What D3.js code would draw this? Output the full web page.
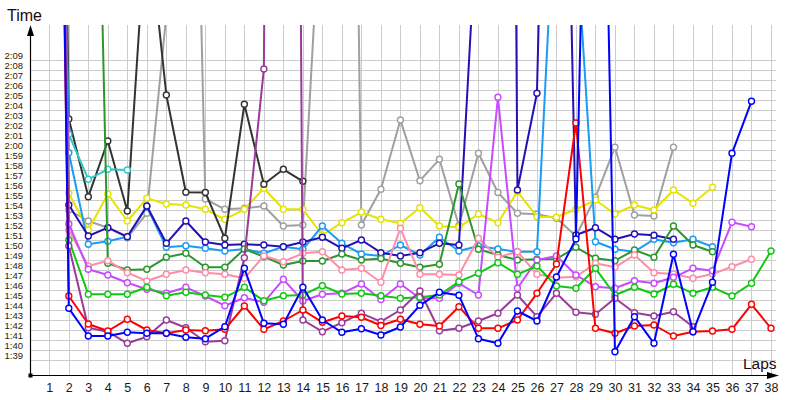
<!DOCTYPE html>
<html><head><meta charset="utf-8">
<script src="https://cdn.jsdelivr.net/npm/d3@7"></script>
<style>body{margin:0;background:#fff}svg{display:block}</style>
</head><body>
<svg id="c" width="800" height="400"></svg>
<script>
// Lap numbers and y tick values (seconds; 99 = 1:39, 129 = 2:09)
const laps = d3.range(1, 39);
const yTicks = d3.range(99, 130);

// Lap times in seconds, starting at lap 1 (values above ~2:12 run off the top of the chart)
const gray      = [220,114.0,112.9,112.23,111.23,113.67,133.5,200,115.1,114.07,114.17,114.4,112.4,112.5,148,260,112.5,116.07,123.0,116.93,119.07,112.43,119.67,115.75,113.67,113.57,113.17,111.4,115.27,120.27,113.5,113.4,120.27];
const yellow    = [215,115.67,112.0,115.6,112.9,115.17,114.6,114.5,114.07,113.07,114.07,116.17,114.07,114.07,111.5,112.73,113.77,113.07,112.67,114.23,112.4,112.27,113.6,112.73,115.83,113.33,113.27,114.07,115.0,113.6,114.5,114.0,116.0,114.67,116.27];
const black     = [260,123.1,115.33,120.9,113.9,144,125.5,115.77,115.75,111.17,124.57,116.57,118.07,116.87];
const cyan      = [210,121.57,117.07,118.07,118.0];
const lightBlue = [200,119.73,110.57,110.87,111.33,114.33,110.27,110.43,110.17,109.9,110.1,109.67,110.33,110.07,112.4,110.67,109.6,109.4,110.5,109.5,111.27,109.9,110.4,110.1,109.83,109.83,148.6,141.8,110.83,110.07,109.83,111.07,110.73,111.07,110.33];
const darkBlue  = [250,114.5,111.4,112.23,111.33,114.4,110.67,112.9,110.8,110.5,110.57,110.5,110.33,110.8,111.27,110.17,111.0,109.73,109.4,109.73,110.67,110.5,146,400,116.0,125.67,205,111.5,112.23,111.07,111.6,111.47,111.07];
const darkGreen = [230,240,197,108.67,108.0,108.07,109.27,109.67,108.27,108.27,110.1,109.33,108.5,108.9,108.9,109.6,109.0,109.15,108.67,108.27,108.57,116.6,110.07,109.5,109.0,109.07,109.1,110.27,109.17,108.93,110.0,109.27,112.4,110.5,109.83];
const pink      = [250,112.0,108.4,108.93,107.73,106.9,107.57,108.0,107.73,107.57,107.17,109.4,108.83,109.67,109.83,108.0,108.17,106.78,112.17,107.57,107.57,107.5,111.17,109.27,109.83,107.57,107.23,107.33,108.67,108.27,109.5,107.73,107.6,107.17,107.6,108.33,109.07];
const violet    = [245,112.6,108.07,107.5,106.73,106.07,105.67,106.27,105.4,104.43,105.23,104.77,107.07,104.9,105.57,105.67,106.6,105.05,106.6,105.17,105.17,106.67,105.5,125.27,106.17,109.0,109.4,107.5,106.33,106.17,106.93,106.67,107.27,108.17,107.93,112.77,112.33];
const green     = [225,111.0,105.57,105.57,105.57,106.27,105.43,105.77,105.5,105.27,106.27,104.93,105.43,105.5,106.43,105.6,105.67,105.43,105.17,105.27,105.5,106.83,107.67,108.73,107.57,108.4,106.4,106.17,108.17,105.5,106.27,105.6,106.57,105.67,106.27,105.4,106.67,109.9];
const purple    = [235,110.4,102.23,101.83,100.67,101.33,103.0,102.23,100.83,100.93,109.23,128.1,400,103.0,101.83,102.73,103.67,102.83,104.0,105.9,101.93,102.17,102.9,103.67,105.5,103.33,105.67,103.77,103.57,105.17,103.73,103.4,103.83,102.33];
const red       = [230,105.4,102.6,101.9,103.07,102.0,101.67,102.0,101.93,102.07,104.4,102.07,102.9,104.0,102.77,103.4,103.27,102.45,103.07,102.57,102.4,104.33,102.17,102.17,103.0,105.67,108.6,122.7,102.17,101.67,102.4,102.5,101.4,101.83,101.9,102.07,104.57,102.17];
const blue      = [240,104.17,101.4,101.4,101.77,101.67,101.67,101.27,101.13,102.33,108.17,102.67,102.57,106.27,103.0,101.77,102.13,101.5,102.3,104.47,105.77,105.47,101.13,100.67,103.9,102.9,107.3,111.1,200,99.83,103.33,100.67,109.57,101.83,106.77,119.67,124.87];

const seriesList = [gray, yellow, black, cyan, lightBlue, darkBlue, darkGreen, pink, violet, green, purple, red, blue];
const palette = ['#a0a0a0','#e4e400','#333333','#33c8c8','#1a9cf5','#2410b4','#2e962e','#ff8ca8','#c84bff','#11c811','#9a3a9a','#ff0000','#0000ff'];

const svg = d3.select('#c');
const x = d3.scaleLinear().domain([0, 38]).range([29.8, 771]);
const y = d3.scaleLinear().domain([99, 129]).range([360, 60]);
const fmt = s => Math.floor(s / 60) + ':' + String(s % 60).padStart(2, '0');
const font = 'Liberation Sans, Arial, sans-serif';

// grid
const g = svg.append('g').attr('shape-rendering', 'crispEdges').attr('stroke', '#cccccc').attr('stroke-width', 1);
g.selectAll('line.h').data(yTicks).join('line').attr('class', 'h')
  .attr('x1', 30).attr('x2', 776).attr('y1', d => Math.round(y(d)) + 0.5).attr('y2', d => Math.round(y(d)) + 0.5);
g.selectAll('line.v').data(laps).join('line').attr('class', 'v')
  .attr('x1', d => Math.round(x(d)) + 0.5).attr('x2', d => Math.round(x(d)) + 0.5).attr('y1', 25).attr('y2', 375);

// clip
svg.append('clipPath').attr('id', 'clip').append('rect').attr('x', 30).attr('y', 25).attr('width', 750).attr('height', 350);
const plot = svg.append('g').attr('clip-path', 'url(#clip)');

const line = d3.line().x((d, i) => x(i + 1)).y(d => y(d));
seriesList.forEach((vals, si) => {
  const col = palette[si];
  const sg = plot.append('g');
  sg.append('path').attr('d', line(vals)).attr('fill', 'none').attr('stroke', col)
    .attr('stroke-width', 2).attr('stroke-linejoin', 'round');
  sg.selectAll('circle').data(vals).join('circle')
    .attr('cx', (d, i) => x(i + 1)).attr('cy', d => y(d)).attr('r', 3)
    .attr('fill', '#fff').attr('stroke', col).attr('stroke-width', 1.4);
});

// y axis labels
const yAxis = svg.append('g').attr('transform', 'translate(30,0)')
  .call(d3.axisLeft(y).tickValues(yTicks).tickFormat(fmt).tickSize(0).tickPadding(7));
yAxis.select('.domain').remove();
yAxis.selectAll('text').attr('dy', -1.5).attr('font-family', font).attr('font-size', 9.5).attr('fill', '#2a1a0a');

// x axis labels
const xAxis = svg.append('g').attr('transform', 'translate(0,375)')
  .call(d3.axisBottom(x).tickValues(laps).tickFormat(d3.format('d')).tickSize(0));
xAxis.select('.domain').remove();
xAxis.selectAll('text').attr('y', 17).attr('dy', 0).attr('font-family', font).attr('font-size', 12.5).attr('fill', '#1a1a1a');

// axis lines and arrows
svg.append('line').attr('x1', 30.5).attr('x2', 30.5).attr('y1', 376).attr('y2', 30).attr('stroke', '#000').attr('stroke-width', 1.2);
svg.append('line').attr('x1', 30).attr('x2', 772).attr('y1', 375.5).attr('y2', 375.5).attr('stroke', '#000').attr('stroke-width', 1.2);
svg.append('path').attr('d', 'M30.5,25 L27,36 L34,36 Z').attr('fill', '#000');
svg.append('path').attr('d', 'M779,375.5 L767,372 L767,379 Z').attr('fill', '#000');
svg.append('rect').attr('x', 28.5).attr('y', 373.5).attr('width', 4).attr('height', 4).attr('fill', '#000');

svg.append('text').attr('x', 7).attr('y', 21).attr('font-family', font).attr('font-size', 16).attr('fill', '#1a0a0a').text('Time');
svg.append('text').attr('x', 743).attr('y', 369).attr('font-family', font).attr('font-size', 15.5).attr('fill', '#1a0a0a').text('Laps');
</script>
</body></html>
